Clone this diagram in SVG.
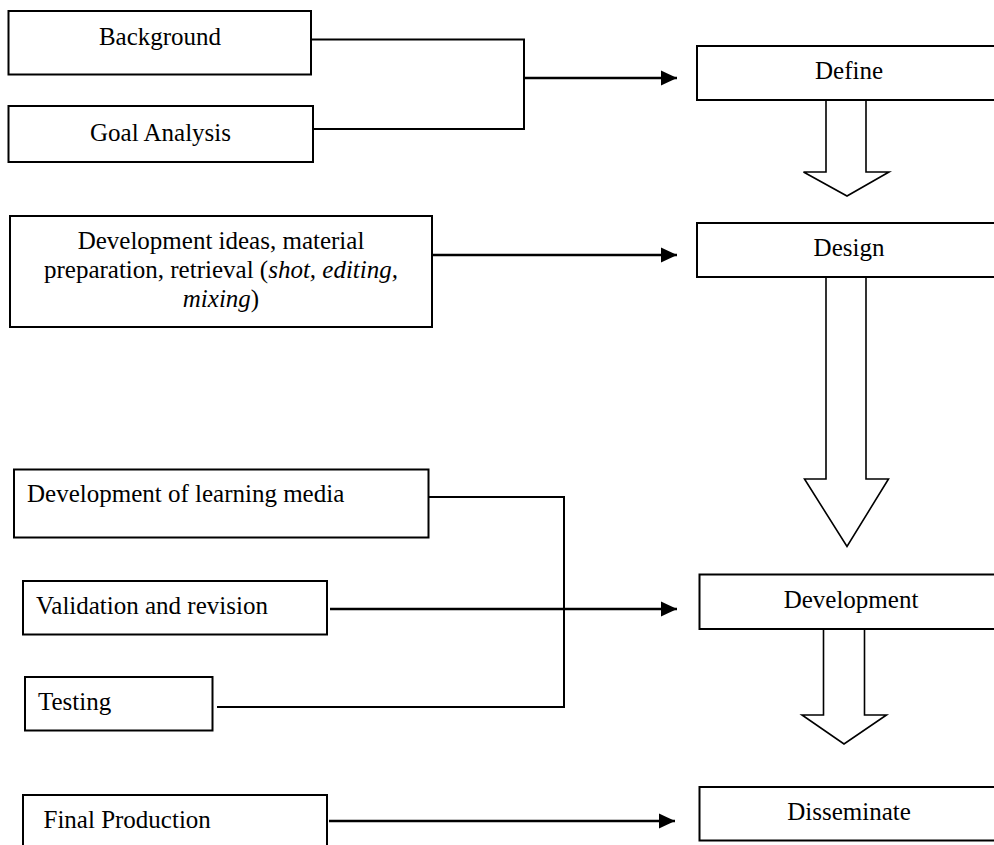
<svg xmlns="http://www.w3.org/2000/svg" width="994" height="845" viewBox="0 0 994 845">
<defs>
<marker id="ah" markerUnits="userSpaceOnUse" markerWidth="16" markerHeight="16" refX="16" refY="8" orient="auto">
<path d="M0,0.5 L16,8 L0,15.5 Z" fill="#000"/>
</marker>
<style>
.box{fill:#fff;stroke:#000;stroke-width:2}
.t{font-family:"Liberation Serif","Times New Roman",serif;font-size:25px;fill:#000}
.c{text-anchor:middle}
.ln{fill:none;stroke:#000;stroke-width:2}
.ar{fill:none;stroke:#000;stroke-width:2.5;marker-end:url(#ah)}
.blk{fill:#fff;stroke:#000;stroke-width:1.6;stroke-linejoin:miter}
</style>
</defs>
<rect width="994" height="845" fill="#fff"/>

<g id="connectors">
<polyline class="ln" points="311,39.5 524,39.5 524,129 313,129"/>
<line class="ar" x1="524" y1="78" x2="677" y2="78"/>
<line class="ar" x1="432" y1="255" x2="677" y2="255"/>
<polyline class="ln" points="429,497 564,497 564,707 217,707"/>
<line class="ar" x1="330" y1="609" x2="677" y2="609"/>
<line class="ar" x1="329" y1="821" x2="675" y2="821"/>
<path class="blk" d="M826,100 L826,172 L803.5,172 L847,196 L889,172 L866,172 L866,100"/>
<path class="blk" d="M826,277 L826,479 L804.5,479 L847,546.5 L888.5,479 L866,479 L866,277"/>
<path class="blk" d="M823.5,629 L823.5,715 L802,715 L844,744 L886.5,715 L864.5,715 L864.5,629"/>
</g>

<g id="background">
<rect class="box" x="8.5" y="11" width="302.5" height="63.5"/>
<text class="t c" x="160" y="45">Background</text>
</g>
<g id="goal-analysis">
<rect class="box" x="8.5" y="106" width="304.5" height="56"/>
<text class="t c" x="160.5" y="141">Goal Analysis</text>
</g>
<g id="define">
<rect class="box" x="697" y="46" width="310" height="54"/>
<text class="t c" x="849" y="79">Define</text>
</g>
<g id="development-ideas">
<rect class="box" x="10" y="216" width="422" height="111"/>
<text class="t c" x="221" y="249">Development ideas, material</text>
<text class="t c" x="221" y="278">preparation, retrieval (<tspan font-style="italic">shot, editing,</tspan></text>
<text class="t c" x="221" y="307"><tspan font-style="italic">mixing</tspan>)</text>
</g>
<g id="design">
<rect class="box" x="697" y="223" width="310" height="54"/>
<text class="t c" x="849" y="256">Design</text>
</g>
<g id="development-of-learning-media">
<rect class="box" x="14" y="469.5" width="414.5" height="68"/>
<text class="t" x="27" y="502">Development of learning media</text>
</g>
<g id="validation-and-revision">
<rect class="box" x="23" y="581" width="304" height="53.5"/>
<text class="t" x="36" y="614">Validation and revision</text>
</g>
<g id="testing">
<rect class="box" x="25" y="677" width="187.5" height="53.5"/>
<text class="t" x="38" y="710">Testing</text>
</g>
<g id="development">
<rect class="box" x="699.5" y="574.5" width="310" height="54.5"/>
<text class="t c" x="851" y="608">Development</text>
</g>
<g id="final-production">
<rect class="box" x="23" y="795" width="304" height="60"/>
<text class="t" x="43.5" y="827.5">Final Production</text>
</g>
<g id="disseminate">
<rect class="box" x="699.5" y="787" width="310" height="53.5"/>
<text class="t c" x="849" y="820">Disseminate</text>
</g>
</svg>
